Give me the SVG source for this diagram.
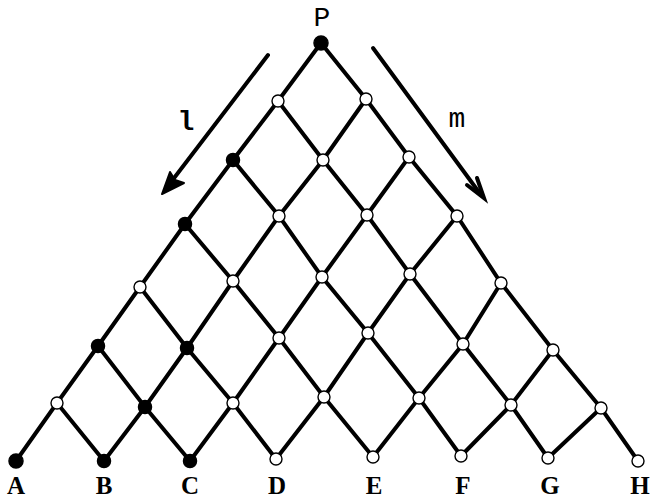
<svg xmlns="http://www.w3.org/2000/svg" width="656" height="501" viewBox="0 0 656 501">
<style>
.e{stroke:#000;stroke-width:4;stroke-linecap:round;fill:none}
.f{fill:#000;stroke:#000;stroke-width:1.5}
.o{fill:#fff;stroke:#000;stroke-width:1.4}
.lbl{font-family:"Liberation Serif","DejaVu Serif",serif;font-weight:bold;font-size:25px;text-anchor:middle;fill:#000}
.lt{font-family:"Liberation Mono","DejaVu Sans Mono",monospace;font-size:28px;text-anchor:middle;fill:#000}
</style>
<rect width="656" height="501" fill="#fff"/>
<g id="connectors">
<path class="e" d="M321,43 L278,101 L233,160 L185,224 L140,287 L98,346 L57,403 L16,461"/>
<path class="e" d="M366,99 L323,160 L279,216 L233,281 L187,348 L145,407 L104,461"/>
<path class="e" d="M409,157 L367,215 L322,277 L279,338 L233,403 L190,461"/>
<path class="e" d="M457,216 L410,274 L368,333 L324,397 L276,459"/>
<path class="e" d="M501,283 L463,344 L419,398 L373,457"/>
<path class="e" d="M553,350 L511,405 L461,456"/>
<path class="e" d="M601,408 L548,458"/>
<path class="e" d="M321,43 L366,99 L409,157 L457,216 L501,283 L553,350 L601,408 L638,461"/>
<path class="e" d="M278,101 L323,160 L367,215 L410,274 L463,344 L511,405 L548,458"/>
<path class="e" d="M233,160 L279,216 L322,277 L368,333 L419,398 L461,456"/>
<path class="e" d="M185,224 L233,281 L279,338 L324,397 L373,457"/>
<path class="e" d="M140,287 L187,348 L233,403 L276,459"/>
<path class="e" d="M98,346 L145,407 L190,461"/>
<path class="e" d="M57,403 L104,461"/>
<path class="e" stroke-width="3.5" d="M268,55 L168,186"/>
<polygon points="162,194 170,172 175,180 184,183" fill="#000" stroke="#000" stroke-width="2" stroke-linejoin="round"/>
<path class="e" stroke-width="3.5" d="M373,48 L481,195"/>
<path class="e" stroke-width="3" d="M467,185 L484,198 L477,178"/>
</g>
<g id="P"><circle class="f" cx="321" cy="43" r="7"/><text class="lt" x="322" y="26">P</text></g>
<g id="n1a"><circle class="o" cx="278" cy="101" r="6"/></g>
<g id="n1b"><circle class="o" cx="366" cy="99" r="6"/></g>
<g id="n2a"><circle class="f" cx="233" cy="160" r="6.5"/></g>
<g id="n2b"><circle class="o" cx="323" cy="160" r="6"/></g>
<g id="n2c"><circle class="o" cx="409" cy="157" r="6"/></g>
<g id="n3a"><circle class="f" cx="185" cy="224" r="6.5"/></g>
<g id="n3b"><circle class="o" cx="279" cy="216" r="6"/></g>
<g id="n3c"><circle class="o" cx="367" cy="215" r="6"/></g>
<g id="n3d"><circle class="o" cx="457" cy="216" r="6"/></g>
<g id="n4a"><circle class="o" cx="140" cy="287" r="6"/></g>
<g id="n4b"><circle class="o" cx="233" cy="281" r="6"/></g>
<g id="n4c"><circle class="o" cx="322" cy="277" r="6"/></g>
<g id="n4d"><circle class="o" cx="410" cy="274" r="6"/></g>
<g id="n4e"><circle class="o" cx="501" cy="283" r="6"/></g>
<g id="n5a"><circle class="f" cx="98" cy="346" r="6.5"/></g>
<g id="n5b"><circle class="f" cx="187" cy="348" r="6.5"/></g>
<g id="n5c"><circle class="o" cx="279" cy="338" r="6"/></g>
<g id="n5d"><circle class="o" cx="368" cy="333" r="6"/></g>
<g id="n5e"><circle class="o" cx="463" cy="344" r="6"/></g>
<g id="n5f"><circle class="o" cx="553" cy="350" r="6"/></g>
<g id="n6a"><circle class="o" cx="57" cy="403" r="6"/></g>
<g id="n6b"><circle class="f" cx="145" cy="407" r="6.5"/></g>
<g id="n6c"><circle class="o" cx="233" cy="403" r="6"/></g>
<g id="n6d"><circle class="o" cx="324" cy="397" r="6"/></g>
<g id="n6e"><circle class="o" cx="419" cy="398" r="6"/></g>
<g id="n6f"><circle class="o" cx="511" cy="405" r="6"/></g>
<g id="n6g"><circle class="o" cx="601" cy="408" r="6"/></g>
<g id="A"><circle class="f" cx="16" cy="461" r="7"/><text class="lbl" x="16" y="494">A</text></g>
<g id="B"><circle class="f" cx="104" cy="461" r="6.5"/><text class="lbl" x="104" y="494">B</text></g>
<g id="C"><circle class="f" cx="190" cy="461" r="6.5"/><text class="lbl" x="190" y="494">C</text></g>
<g id="D"><circle class="o" cx="276" cy="459" r="6"/><text class="lbl" x="277" y="494">D</text></g>
<g id="E"><circle class="o" cx="373" cy="457" r="6"/><text class="lbl" x="374" y="494">E</text></g>
<g id="F"><circle class="o" cx="461" cy="456" r="6"/><text class="lbl" x="463" y="494">F</text></g>
<g id="G"><circle class="o" cx="548" cy="458" r="6"/><text class="lbl" x="550" y="494">G</text></g>
<g id="H"><circle class="o" cx="638" cy="461" r="6"/><text class="lbl" x="640" y="494">H</text></g>
<g id="label-l"><text class="lt" x="186" y="130" font-size="30" font-weight="bold">l</text></g>
<g id="label-m"><text class="lt" x="457" y="127" font-size="26">m</text></g>
</svg>
